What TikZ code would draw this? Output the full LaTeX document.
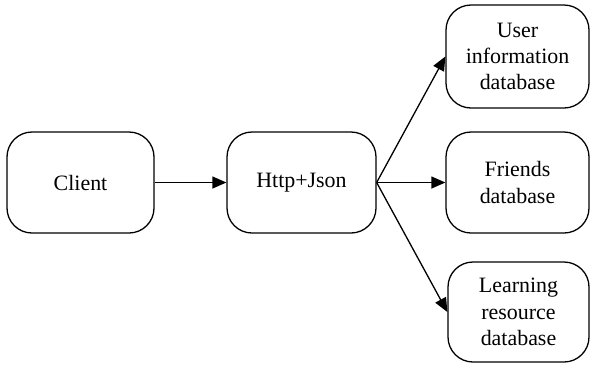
\documentclass[tikz,border=0pt]{standalone}
\usepackage{fontspec}
\setmainfont{Liberation Serif}
\usetikzlibrary{arrows.meta}
\begin{document}
\begin{tikzpicture}[x=1bp, y=-1bp,
    box/.style={draw, line width=1.3bp, rounded corners=25bp, align=center,
        minimum height=101bp, inner sep=0pt, font=\fontsize{22}{26.5}\selectfont},
    link/.style={line width=1.3bp, -{Triangle[length=14bp, width=12bp]}}]
\def\boxW{147}
\def\dbW{143}
\useasboundingbox (0,0) rectangle (592,364);
\node[box, minimum width=\boxW bp] (client) at (80.5, 182.5) {Client};
\node[box, minimum width=149bp] (http) at (301.5, 182.5) {Http+Json};
\node[box, minimum width=\dbW bp, minimum height=103bp] (userdb) at (517.5, 56.5) {User\\information\\database};
\node[box, minimum width=\dbW bp] (friendsdb) at (517.5, 182.5) {Friends\\database};
\node[box, minimum width=141bp, minimum height=100bp] (learndb) at (518.5, 312) {Learning\\resource\\database};
\draw[link] (client) -- (http);
\foreach \db in {userdb, friendsdb, learndb} {
    \draw[link] (http.east) -- (\db.west);
}
\end{tikzpicture}
\end{document}
